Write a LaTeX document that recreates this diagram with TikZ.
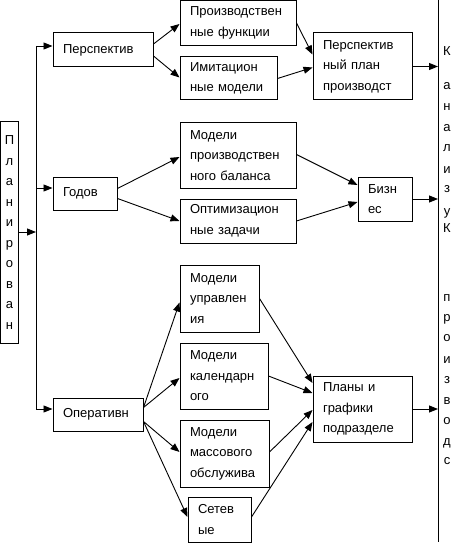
\documentclass[tikz,border=0pt]{standalone}
\usepackage{fontspec}
\setmainfont{Liberation Sans}
\usetikzlibrary{arrows.meta,calc}
\begin{document}
\begin{tikzpicture}[x=1pt,y=-1pt,
  font=\fontsize{13}{20.5}\selectfont,
  box/.style={draw,line width=1pt,rectangle,inner xsep=10pt,inner ysep=0pt,align=left},
  arr/.style={line width=0.9pt,-{Triangle[length=9pt,width=7pt]}},
  ln/.style={line width=1pt},
  letter/.style={inner sep=0pt,anchor=center,text height=9pt,text depth=3pt}]
\useasboundingbox (0,0) rectangle (467,548);
% boxes
\node[box,minimum width=18pt,minimum height=221pt,inner xsep=0pt,align=center] (plan) at (9.5,232.5) {П\\л\\а\\н\\и\\р\\о\\в\\а\\н};
\node[box,minimum width=100pt,minimum height=34pt,text width=80pt] (persp) at (103,50) {Перспектив};
\node[box,minimum width=64pt,minimum height=33pt,text width=44pt] (godov) at (85,193.5) {Годов};
\node[box,minimum width=90pt,minimum height=33pt,text width=70pt] (oper) at (98,414.5) {Оперативн};
\node[box,minimum width=116pt,minimum height=45pt,text width=96pt] (proizv) at (238,23) {Производствен\\ные функции};
\node[box,minimum width=97pt,minimum height=43pt,text width=77pt] (imit) at (228.5,78.5) {Имитацион\\ные модели};
\node[box,minimum width=99pt,minimum height=67pt,text width=79pt] (pplan) at (362.5,66.5) {Перспектив\\ный план\\производст};
\node[box,minimum width=116pt,minimum height=65pt,text width=96pt] (balans) at (238,155.5) {Модели\\производствен\\ного баланса};
\node[box,minimum width=116pt,minimum height=44pt,text width=96pt] (optim) at (238,221) {Оптимизацион\\ные задачи};
\node[box,minimum width=54pt,minimum height=44pt,text width=34pt] (biz) at (385,199) {Бизн\\ес};
\node[box,minimum width=79pt,minimum height=67pt,text width=59pt] (upr) at (219.5,298.5) {Модели\\управлен\\ия};
\node[box,minimum width=88pt,minimum height=66pt,text width=68pt] (kal) at (224,376) {Модели\\календарн\\ого};
\node[box,minimum width=89pt,minimum height=67pt,text width=69pt] (mass) at (224.5,453.5) {Модели\\массового\\обслужива};
\node[box,minimum width=63pt,minimum height=45pt,text width=43pt] (set) at (219.5,519.5) {Сетев\\ые};
\node[box,minimum width=99pt,minimum height=66pt,text width=79pt] (plany) at (362.5,409) {Планы и\\графики\\подразделе};
% right column letters
\foreach \ch/\yy [count=\i] in {К/53,а/87,н/108,а/129,л/149,и/170,з/189,у/212,К/229,п/298,р/318,о/338,и/360,з/380,в/401,о/421,д/442,с/461}
  \node[letter] (r\i) at (447,\yy) {\ch};
% right vertical line
\coordinate (rt) at (438,0);
\coordinate (rb) at (438,542);
\draw[ln] (rt) -- (rb);
% left trunk
\coordinate (j) at (36,232);
\coordinate (jt) at (36,46);
\coordinate (jg) at (36,188);
\coordinate (jb) at (36,409);
\draw[ln] (jt) -- (jb);
\draw[arr] (plan.east |- j) -- (j);
\draw[arr] (jt) -- (jt -| persp.west);
\draw[arr] (jg) -- (jg -| godov.west);
\draw[arr] (jb) -- (jb -| oper.west);
% connectors
\draw[arr] ($(persp.east)+(0,-6)$) -- ($(proizv.west)+(0,1)$);
\draw[arr] ($(persp.east)+(0,6)$) -- ($(imit.west)+(0,-1)$);
\draw[arr] (proizv.east) -- ($(pplan.west)+(0,-12)$);
\draw[arr] (imit.east) -- ($(pplan.west)+(0,1)$);
\draw[arr] (pplan.east) -- (pplan.east -| rt);
\draw[arr] ($(godov.east)+(0,-5)$) -- ($(balans.west)+(0,1.5)$);
\draw[arr] ($(godov.east)+(0,5)$) -- (optim.west);
\draw[arr] ($(balans.east)+(0,-1)$) -- ($(biz.west)+(0,-14)$);
\draw[arr] (optim.east) -- ($(biz.west)+(0,3)$);
\draw[arr] (biz.east) -- (biz.east -| rt);
\draw[arr] ($(oper.east)+(0,-7)$) -- ($(upr.west)+(0,4)$);
\draw[arr] ($(oper.east)+(0,-7)$) -- ($(kal.west)+(0,2)$);
\draw[arr] ($(oper.east)+(0,7)$) -- ($(mass.west)+(0,-1.5)$);
\draw[arr] ($(oper.east)+(0,7)$) -- ($(set.west)+(0,-2.5)$);
\draw[arr] (upr.east) -- ($(plany.west)+(0,-26)$);
\draw[arr] (kal.east) -- ($(plany.west)+(0,-16)$);
\draw[arr] ($(mass.east)+(0,-1.5)$) -- ($(plany.west)+(0,1)$);
\draw[arr] ($(set.east)+(0,-2.5)$) -- ($(plany.west)+(0,13)$);
\draw[arr] (plany.east) -- (plany.east -| rt);
\end{tikzpicture}
\end{document}
